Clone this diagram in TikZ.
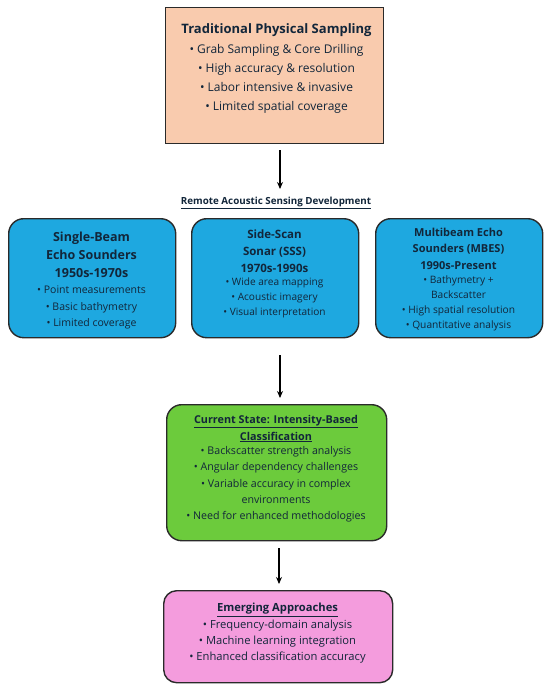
\documentclass[tikz,border=0pt]{standalone}
\usepackage{fontspec}
\setmainfont{Open Sans}
\usetikzlibrary{arrows.meta}
\definecolor{salmonfill}{HTML}{F9CBAE}
\definecolor{bluefill}{HTML}{1EA8E0}
\definecolor{greenfill}{HTML}{6CCB3C}
\definecolor{pinkfill}{HTML}{F49CDD}
\definecolor{txt}{HTML}{12263A}
\definecolor{edge}{HTML}{2A2A2A}
\begin{document}
\begin{tikzpicture}[x=1pt,y=-1pt,
  boxbase/.style={draw=edge, line width=1.4pt, inner sep=0pt, anchor=north west},
  sqbox/.style={boxbase, fill=salmonfill},
  bluebox/.style={boxbase, fill=bluefill, rounded corners=15pt, minimum width=167pt, minimum height=119pt},
  greenbox/.style={boxbase, fill=greenfill, rounded corners=15pt},
  pinkbox/.style={boxbase, fill=pinkfill, rounded corners=13pt},
  lbl/.style={text=txt, align=center, inner sep=0pt, anchor=center},
  arr/.style={-{Stealth[length=7pt,width=6pt]}, line width=1.2pt, draw=black}
]
\useasboundingbox (0,0) rectangle (550,691);

% top box
\node[sqbox, minimum width=218pt, minimum height=136pt] (top) at (165,7) {};
\node[lbl, font=\fontsize{13}{19}\selectfont\bfseries] (toptitle) at (276.5,30) {Traditional Physical Sampling};
\node[lbl, font=\fontsize{12}{19}\selectfont] (topbul) at (276.5,79) {• Grab Sampling \& Core Drilling\\ • High accuracy \& resolution\\ • Labor intensive \& invasive\\ • Limited spatial coverage};

% remote label
\node[lbl, font=\fontsize{9.8}{11}\selectfont\bfseries] (remote) at (276,203) {\underline{Remote Acoustic Sensing Development}};

% blue boxes
\node[bluebox] (sb) at (8,218) {};
\node[lbl, font=\fontsize{12.5}{18.3}\selectfont\bfseries] (sbt) at (91.5,255) {Single-Beam\\ Echo Sounders\\ 1950s-1970s};
\node[lbl, font=\fontsize{10.5}{16.8}\selectfont] (sbb) at (91.5,307.5) {• Point measurements\\ • Basic bathymetry\\ • Limited  coverage};

\node[bluebox] (ss) at (191,218) {};
\node[lbl, font=\fontsize{11.5}{17}\selectfont\bfseries] (sst) at (274.5,251) {Side-Scan\\ Sonar (SSS)\\ 1970s-1990s};
\node[lbl, font=\fontsize{10.1}{15}\selectfont] (ssb) at (274.5,298) {• Wide area mapping\\ • Acoustic imagery\\ • Visual interpretation};

\node[bluebox] (mb) at (375,218) {};
\node[lbl, font=\fontsize{11}{16.2}\selectfont\bfseries] (mbt) at (458.5,248.8) {Multibeam Echo\\ Sounders (MBES)\\ 1990s-Present};
\node[lbl, font=\fontsize{10.2}{15}\selectfont] (mbb) at (458.5,303) {• Bathymetry +\\ Backscatter\\ • High spatial resolution\\ • Quantitative analysis};

% green box
\node[greenbox, minimum width=220pt, minimum height=136pt] (cs) at (166,404) {};
\node[lbl, font=\fontsize{10.8}{17}\selectfont\bfseries] (cst) at (276,428.5) {\underline{Current State: Intensity-Based}\\ \underline{Classification}};
\node[lbl, font=\fontsize{10.65}{16.3}\selectfont] (csb) at (276,484.5) {• Backscatter strength analysis\\ • Angular dependency challenges\\ • Variable accuracy in complex\\ environments\\ • Need for enhanced methodologies};

% pink box
\node[pinkbox, minimum width=229pt, minimum height=92pt] (em) at (163,590) {};
\node[lbl, font=\fontsize{11.2}{16}\selectfont\bfseries] (emt) at (277.5,610) {\underline{Emerging Approaches}};
\node[lbl, font=\fontsize{11.2}{16}\selectfont] (emb) at (277.5,642) {• Frequency-domain analysis\\ • Machine learning integration\\ • Enhanced classification accuracy};

% arrows
\coordinate (a1s) at (280,150);
\coordinate (a1e) at (280,189);
\coordinate (a2s) at (280,355);
\coordinate (a2e) at (280,398);
\coordinate (a3s) at (279,548);
\coordinate (a3e) at (279,584);
\draw[arr] (a1s) -- (a1e);
\draw[arr] (a2s) -- (a2e);
\draw[arr] (a3s) -- (a3e);
\end{tikzpicture}
\end{document}
